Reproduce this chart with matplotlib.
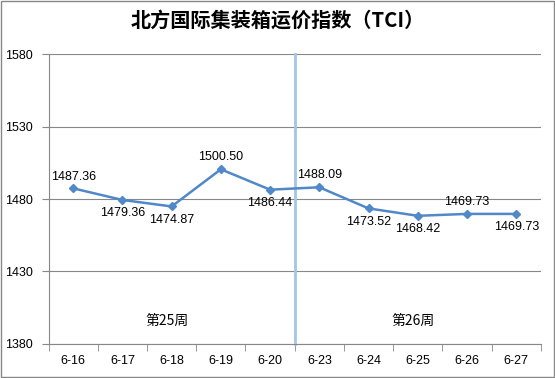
import matplotlib.pyplot as plt
from matplotlib.patches import Rectangle

# Data
dates = ["6-16", "6-17", "6-18", "6-19", "6-20", "6-23", "6-24", "6-25", "6-26", "6-27"]
tci = [1487.36, 1479.36, 1474.87, 1500.50, 1486.44, 1488.09, 1473.52, 1468.42, 1469.73, 1469.73]
label_above = [True, False, False, True, False, True, False, False, True, False]
weeks = ["第25周", "第26周"]
week_pos = [1.9, 6.9]

plt.rcParams['font.family'] = ['Noto Sans CJK SC', 'DejaVu Sans']

LINE = "#5088C8"
GRID = "#878787"
NUM_FONT = "Liberation Sans"


def main():
    fig = plt.figure(figsize=(5.55, 3.78), dpi=100)
    ax = fig.add_axes([0.0875, 0.09, 0.887, 0.767])

    x = list(range(len(dates)))
    ax.plot(x, tci, color=LINE, lw=1.8, marker="D", ms=4.5, zorder=3)

    # data labels
    for i, v in enumerate(tci):
        dy = 8.5 if label_above[i] else -9.5
        ax.annotate(f"{v:.2f}", (i, v), xytext=(0, dy), textcoords="offset points",
                    ha="center", va="center", fontsize=9, family=NUM_FONT)

    # week separator
    ax.axvline(4.5, ymin=0, ymax=1.0, color="#A3C6E8", lw=2, clip_on=False, zorder=2)
    for w, p in zip(weeks, week_pos):
        ax.text(p, 1396, w, ha="center", va="center", fontsize=10)

    ax.set_xlim(-0.5, len(dates) - 0.5)
    ax.set_ylim(1380, 1580)
    ax.set_yticks(range(1380, 1581, 50))
    ax.set_xticks(x)
    ax.set_xticklabels(dates)
    ax.set_xticks([i - 0.5 for i in range(len(dates) + 1)], minor=True)
    ax.tick_params(axis="x", which="major", length=0, pad=8, labelsize=9)
    ax.tick_params(axis="x", which="minor", length=5, color=GRID)
    ax.tick_params(axis="y", length=5, color=GRID, labelsize=9, pad=6)
    for lab in ax.get_xticklabels() + ax.get_yticklabels():
        lab.set_family(NUM_FONT)

    ax.grid(axis="y", color=GRID, lw=0.8)
    ax.set_axisbelow(True)
    for s in ["top", "right"]:
        ax.spines[s].set_visible(False)
    for s in ["left", "bottom"]:
        ax.spines[s].set_color(GRID)
        ax.spines[s].set_linewidth(0.8)

    fig.text(0.5, 0.946, "北方国际集装箱运价指数（TCI）", ha="center", va="center",
             fontsize=14.5, fontweight="bold")

    # outer border
    fig.patches.append(Rectangle((0.001, 0.002), 0.997, 0.996, transform=fig.transFigure,
                                 fill=False, edgecolor=GRID, lw=1))

    fig.savefig("out.png", dpi=100)


if __name__ == "__main__":
    main()
